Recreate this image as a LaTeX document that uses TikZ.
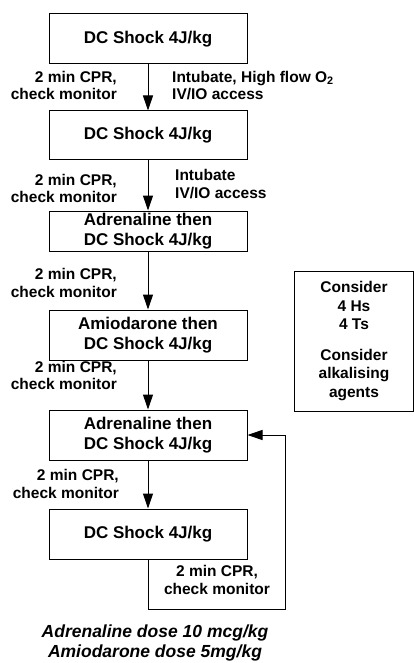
\documentclass[tikz,border=0pt]{standalone}
\usepackage{fontspec}
\setmainfont{Liberation Sans}
\usetikzlibrary{arrows.meta}

\begin{document}
\begin{tikzpicture}[x=1pt,y=-1pt,
  box/.style={draw,line width=1pt,minimum width=198pt,minimum height=50pt,
    inner sep=0pt,align=center,font=\fontsize{17}{19.5}\selectfont\bfseries},
  cpr/.style={anchor=east,align=right,inner sep=0pt,
    font=\fontsize{15.5}{17.5}\selectfont\bfseries},
  airway/.style={anchor=west,align=left,inner sep=0pt,
    font=\fontsize{15.5}{17.5}\selectfont\bfseries},
  flow/.style={line width=1pt,-{Triangle[length=15pt,width=10pt]}}]
\useasboundingbox (0,0) rectangle (414,663);
% Main column of shocks, all centred on x = 148
\node[box] (shock1) at (148,39) {DC Shock 4J/kg};
\node[box,minimum height=49pt] (shock2) at (148,135.5) {DC Shock 4J/kg};
\node[box,minimum height=40pt] (adren1) at (148,231) {Adrenaline then\\DC Shock 4J/kg};
\node[box] (amio) at (148,335) {Amiodarone then\\ DC Shock 4J/kg};
\node[box] (adren2) at (148,435) {Adrenaline then\\DC Shock 4J/kg};
\node[box] (shock3) at (148,534) {DC Shock 4J/kg};
% Arrows down the column
\draw[flow] (shock1) -- (shock2);
\draw[flow] (shock2) -- (adren1);
\draw[flow] (adren1) -- (amio);
\draw[flow] (amio) -- (adren2);
\draw[flow] (adren2) -- (shock3);
% Loop from the last shock back up to adrenaline
\coordinate (loop) at (285,609);
\draw[flow] (shock3.south) |- (loop) |- (adren2.east);
% CPR notes on the left of each arrow
\node[cpr] (cpr1) at (117,85.5) {2 min CPR,\\check monitor};
\node[cpr] (cpr2) at (117,188.5) {2 min CPR,\\check monitor};
\node[cpr] (cpr3) at (117,283) {2 min CPR,\\check monitor};
\node[cpr] (cpr4) at (117,375.5) {2 min CPR,\\check monitor};
\node[cpr] (cpr5) at (119,484) {2 min CPR,\\check monitor};
\node[cpr,anchor=center,align=center] (cpr6) at (217,580) {2 min CPR,\\check monitor};
% Airway notes on the right
\node[airway] (air1) at (172,85.5) {Intubate, High flow O\textsubscript{2}\\IV/IO access};
\node[airway] (air2) at (175,184) {Intubate\\IV/IO access};
% Side box
\node[draw,line width=1pt,minimum width=119pt,minimum height=140pt,align=center,
  font=\fontsize{15.5}{18.5}\selectfont\bfseries] (consider) at (354,341)
  {Consider\\4 Hs\\4 Ts\\[12pt]Consider\\alkalising\\agents};
% Doses
\node[align=center,inner sep=0pt,font=\fontsize{17.5}{20}\selectfont\bfseries\itshape]
  (doses) at (155,643) {Adrenaline dose 10 mcg/kg\\Amiodarone dose 5mg/kg};
\end{tikzpicture}
\end{document}
